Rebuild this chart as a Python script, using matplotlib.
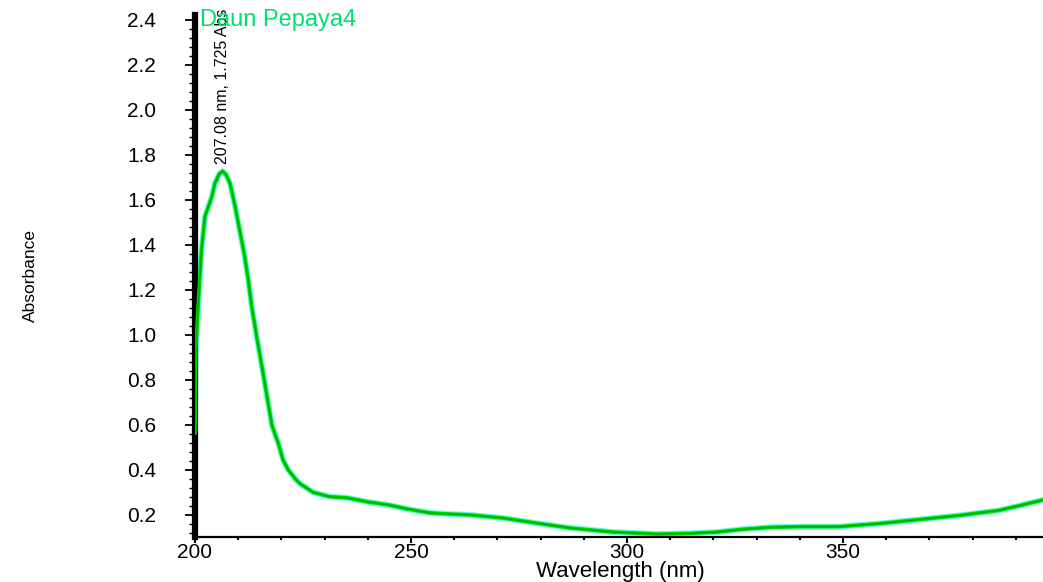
import matplotlib
matplotlib.use("Agg")
import matplotlib.pyplot as plt
from matplotlib.ticker import MultipleLocator

# ---- data ----
wavelength_nm = [200.0, 200.1, 200.8, 201.5, 202.3, 203.1, 203.9, 204.6, 205.6, 206.4,
                 207.2, 208.1, 209.3, 210.4, 211.4, 212.3, 213.1, 214.3, 215.4,
                 216.2, 217.0, 217.8, 218.5, 219.3, 220.4, 221.6, 223.1, 224.3, 227.4,
                 231.2, 235.2, 240.0, 245.0, 249.0, 254.4, 258.0, 263.7, 271.0, 279.0,
                 286.8, 296.8, 307.0, 314.6, 320.8, 326.6, 333.0, 340.0, 349.0, 358.6,
                 367.8, 377.0, 386.0, 391.0, 396.3]
absorbance = [0.563, 0.904, 1.156, 1.378, 1.526, 1.570, 1.615, 1.674, 1.715, 1.728,
              1.712, 1.674, 1.570, 1.460, 1.360, 1.250, 1.130, 0.990, 0.870,
              0.780, 0.690, 0.600, 0.560, 0.518, 0.444, 0.400, 0.363, 0.339, 0.300,
              0.281, 0.276, 0.258, 0.244, 0.227, 0.209, 0.205, 0.200, 0.187, 0.164,
              0.142, 0.124, 0.115, 0.118, 0.124, 0.136, 0.145, 0.148, 0.148, 0.162,
              0.180, 0.198, 0.220, 0.242, 0.267]
series_name = "Daun Pepaya4"
peak_label = "207.08 nm, 1.725 Abs"
peak_x, peak_y = 206.4, 1.728
y_ticks = [0.2, 0.4, 0.6, 0.8, 1.0, 1.2, 1.4, 1.6, 1.8, 2.0, 2.2, 2.4]
x_ticks = [200, 250, 300, 350]

W, H = 1043, 582
fig = plt.figure(figsize=(W / 100, H / 100), dpi=100)
ax = fig.add_axes([195 / W, 45 / H, (W - 195) / W, (537 - 15) / H])

ax.plot(wavelength_nm, absorbance, color="#60ffe0", lw=4.2, solid_capstyle="round", zorder=2)
ax.plot(wavelength_nm, absorbance, color="#00d400", lw=2.6, solid_capstyle="round", zorder=3)
ax.plot(wavelength_nm, absorbance, color="#008a00", lw=0.8, zorder=4, alpha=0.6)

ax.set_xlim(200, 396.3)
ax.set_ylim(0.102, 2.422)

for s in ["top", "right"]:
    ax.spines[s].set_visible(False)
ax.spines["left"].set_linewidth(4.5)
ax.spines["bottom"].set_linewidth(1.6)

ax.set_yticks(y_ticks)
ax.set_yticklabels([f"{v:.1f}" for v in y_ticks])
ax.yaxis.set_minor_locator(MultipleLocator(0.04))
ax.set_xticks(x_ticks)
ax.set_xticklabels([str(v) for v in x_ticks])
ax.xaxis.set_minor_locator(MultipleLocator(10))

tick_font = ["Liberation Sans", "DejaVu Sans"]
ax.tick_params(axis="y", which="major", direction="out", length=7, width=1.3, pad=21, labelsize=15)
ax.tick_params(axis="y", which="minor", direction="out", length=4, width=1.0)
ax.tick_params(axis="x", which="major", direction="out", length=4, width=1.5, pad=0, labelsize=15)
ax.tick_params(axis="x", which="minor", direction="out", length=2.5, width=1.5)
for lab in ax.get_xticklabels() + ax.get_yticklabels():
    lab.set_family(tick_font)

fig.text(30 / W, 1 - 275 / H, "Absorbance", rotation=90, ha="center", va="center",
         fontsize=12.5, family=tick_font)
fig.text(620 / W, 1 - 572 / H, "Wavelength (nm)", ha="center", va="center",
         fontsize=16, family=tick_font)

ax.text(peak_x, peak_y + 0.03, peak_label, rotation=90, ha="center", va="bottom",
        fontsize=11.5, family=tick_font, clip_on=False, zorder=5)

fig.text(200 / W, 1 - 20 / H, series_name, ha="left", va="center", fontsize=17,
         color="#00e070", family=tick_font, zorder=10)

fig.savefig("out.png", dpi=100)
